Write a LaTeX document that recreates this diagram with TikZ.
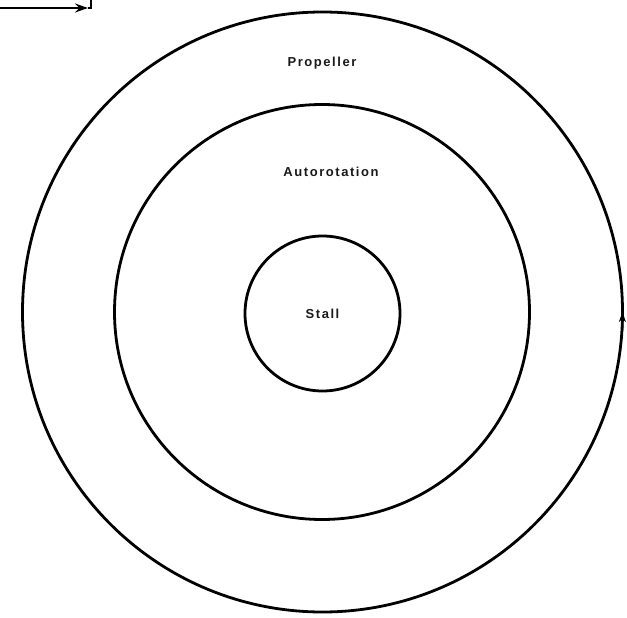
\documentclass[tikz,border=0pt]{standalone}
\usepackage{fontspec}
\setmainfont{Liberation Sans}[LetterSpace=12]
\usetikzlibrary{arrows.meta, positioning}

\begin{document}
\begin{tikzpicture}[
  x=1pt, y=-1pt,
  ring/.style={circle, draw=black, line width=2.8pt, inner sep=0pt},
  ringlabel/.style={font=\fontsize{13}{15}\selectfont\bfseries, text=black!90},
  flowline/.style={line width=2.2pt, black},
]
\useasboundingbox (0,0) rectangle (627,618);

%% ============ NESTED REGIONS ============
\node[ring, minimum size=600pt] (outer)  at (322.5,312) {};
\node[ring, minimum size=415pt] (middle) at (322,312)   {};
\node[ring, minimum size=155pt, ringlabel] (stall) at (322.5,313.5) {Stall};

% region labels
\node[ringlabel] (proplabel) at (322,63)  {Propeller};
\node[ringlabel] (autolabel) at (331,172) {Autorotation};

%% ============ CUT-OFF ARROW, TOP LEFT ============
\coordinate (inflow)  at (0,8);
\coordinate (intip)   at (88,8);
\coordinate (corner)  at (91,8);
\coordinate (cornerup) at (91,0);
\draw[flowline, -{Stealth[length=13pt, width=9pt]}] (inflow) -- (intip);
\draw[flowline] (intip) -- (corner) -- (cornerup);

%% ============ ARROW TIP ON OUTER RING ============
\coordinate (ringlow)  at (622.3,330);
\coordinate (ringtip)  at (622.5,312);
\draw[line width=2pt, -{Stealth[length=10pt, width=7pt]}] (ringlow) -- (ringtip);

\end{tikzpicture}
\end{document}
